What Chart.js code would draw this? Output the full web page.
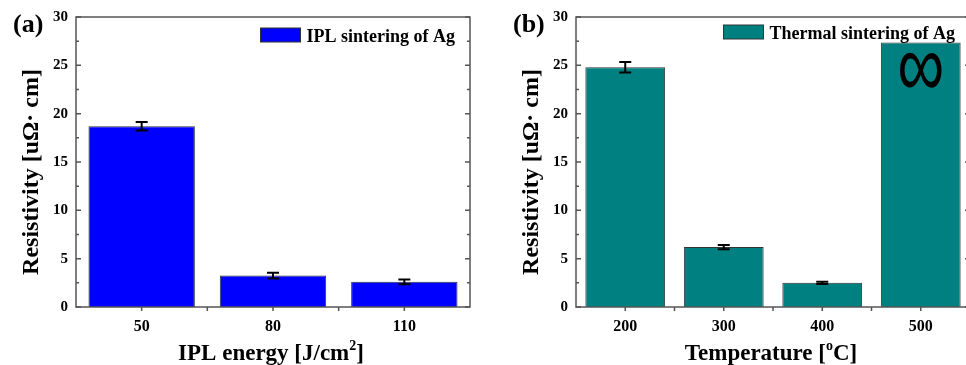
<!DOCTYPE html>
<html>
<head>
<meta charset="utf-8">
<script src="https://cdn.jsdelivr.net/npm/chart.js@4.4.0/dist/chart.umd.min.js"></script>
<style>
  html, body { margin: 0; padding: 0; background: #fff; overflow: hidden; width: 966px; height: 365px; position: relative; }
  .panel { position: absolute; top: 0; width: 483px; height: 365px; }
</style>
</head>
<body>
<div class="panel" style="left:0"><canvas id="chartA" width="483" height="365"></canvas></div>
<div class="panel" style="left:500px"><canvas id="chartB" width="483" height="365"></canvas></div>
<script>
// datos
const iplEnergy = ['50', '80', '110'];
const iplResistivity = [18.7, 3.25, 2.6];
const iplError = [0.45, 0.3, 0.25];

const thermalTemp = ['200', '300', '400', '500'];
const thermalResistivity = [24.8, 6.2, 2.5, 27.35];
const thermalError = [0.55, 0.22, 0.12, 0];

const yTicks = [0, 5, 10, 15, 20, 25, 30];

const FONT = "'Liberation Serif', 'Times New Roman', serif";

// titulo con superindice: [[texto, esSuperindice], ...]
function drawRichText(ctx, parts, cx, cy, size) {
  const big = 'bold ' + size + 'px ' + FONT;
  const small = 'bold ' + Math.round(size * 0.6) + 'px ' + FONT;
  let total = 0;
  parts.forEach(([t, sup]) => { ctx.font = sup ? small : big; total += ctx.measureText(t).width; });
  let px = cx - total / 2;
  ctx.textAlign = 'left';
  ctx.textBaseline = 'alphabetic';
  parts.forEach(([t, sup]) => {
    ctx.font = sup ? small : big;
    ctx.fillText(t, px, cy + (sup ? -size * 0.42 : 0));
    px += ctx.measureText(t).width;
  });
}

// marco, ticks, barras de error, leyenda
function panelPlugin(opts) {
  return {
    id: 'panel' + opts.letter.replace(/\W/g, ''),
    afterDatasetsDraw(chart) {
      const { ctx, chartArea: a, scales: { x, y } } = chart;
      ctx.save();

      // barras de error
      ctx.strokeStyle = '#000';
      ctx.lineWidth = 2;
      opts.values.forEach((v, i) => {
        const e = opts.errors[i];
        if (!e) return;
        const cx = x.getPixelForValue(i);
        const y1 = y.getPixelForValue(v + e);
        const y2 = y.getPixelForValue(v - e);
        ctx.beginPath();
        ctx.moveTo(cx, y1); ctx.lineTo(cx, y2);
        ctx.moveTo(cx - 6, y1); ctx.lineTo(cx + 6, y1);
        ctx.moveTo(cx - 6, y2); ctx.lineTo(cx + 6, y2);
        ctx.stroke();
      });

      // simbolo infinito
      if (opts.mark) {
        ctx.save();
        ctx.translate(x.getPixelForValue(opts.mark.index), y.getPixelForValue(opts.mark.value));
        ctx.scale(1.0, 1.4);
        ctx.fillStyle = '#000';
        ctx.font = "66px 'Liberation Sans', Arial, sans-serif";
        ctx.textAlign = 'center';
        ctx.textBaseline = 'middle';
        ctx.fillText(opts.mark.text, 0, 0);
        ctx.restore();
      }

      // marco
      ctx.strokeStyle = '#555';
      ctx.lineWidth = 1.5;
      ctx.strokeRect(a.left, a.top, a.right - a.left, a.bottom - a.top);

      // ticks eje y (hacia dentro, ambos lados)
      ctx.beginPath();
      yTicks.forEach((t, k) => {
        const py = y.getPixelForValue(t);
        ctx.moveTo(a.left, py); ctx.lineTo(a.left + 5, py);
        ctx.moveTo(a.right, py); ctx.lineTo(a.right - 5, py);
        if (k < yTicks.length - 1) {
          const pm = y.getPixelForValue((t + yTicks[k + 1]) / 2);
          ctx.moveTo(a.left, pm); ctx.lineTo(a.left + 3, pm);
          ctx.moveTo(a.right, pm); ctx.lineTo(a.right - 3, pm);
        }
      });
      // ticks eje x (hacia fuera)
      opts.labels.forEach((l, i) => {
        const px = x.getPixelForValue(i);
        ctx.moveTo(px, a.bottom); ctx.lineTo(px, a.bottom + 4);
        if (i > 0) {
          const pb = (px + x.getPixelForValue(i - 1)) / 2;
          ctx.moveTo(pb, a.bottom); ctx.lineTo(pb, a.bottom + 4);
        }
      });
      ctx.stroke();

      // leyenda
      ctx.font = 'bold 18px ' + FONT;
      ctx.textAlign = 'left';
      ctx.textBaseline = 'alphabetic';
      const w = ctx.measureText(opts.legend).width;
      const tx = a.right - 15 - w;
      ctx.fillStyle = opts.color;
      ctx.fillRect(tx - 46, opts.legendTop, 40, 14);
      ctx.strokeStyle = '#333';
      ctx.lineWidth = 1;
      ctx.strokeRect(tx - 46, opts.legendTop, 40, 14);
      ctx.fillStyle = '#000';
      ctx.fillText(opts.legend, tx, opts.legendTop + 14);

      // titulos de ejes
      drawRichText(ctx, opts.xTitle, (a.left + a.right) / 2 - 2, 360, 23);
      ctx.save();
      ctx.translate(32, 172);
      ctx.rotate(-Math.PI / 2);
      ctx.font = 'bold 24px ' + FONT;
      ctx.textAlign = 'center';
      ctx.textBaseline = 'middle';
      ctx.fillText('Resistivity [uΩ· cm]', 0, 0);
      ctx.restore();

      // letra del panel
      ctx.font = 'bold 26px ' + FONT;
      ctx.textAlign = 'left';
      ctx.textBaseline = 'middle';
      ctx.fillText(opts.letter, 13, 25);

      ctx.restore();
    }
  };
}

function makeChart(id, opts) {
  const tickFont = { family: FONT, size: 16, weight: 'bold' };
  return new Chart(document.getElementById(id), {
    type: 'bar',
    data: {
      labels: opts.labels,
      datasets: [{
        label: opts.legend,
        data: opts.values,
        backgroundColor: opts.color,
        borderColor: '#333',
        borderWidth: 1,
        barPercentage: 0.81,
        categoryPercentage: 1
      }]
    },
    options: {
      responsive: false,
      animation: false,
      layout: { padding: { top: 17, right: 13, left: 0, bottom: 0 } },
      plugins: { legend: { display: false }, tooltip: { enabled: false } },
      scales: {
        x: {
          grid: { display: false, drawTicks: false },
          border: { display: false },
          ticks: { font: tickFont, color: '#000', padding: 10 },
          afterFit: s => { s.height = 58; }
        },
        y: {
          min: 0,
          max: 30,
          afterBuildTicks: s => { s.ticks = yTicks.map(v => ({ value: v })); },
          grid: { display: false, drawTicks: false },
          border: { display: false },
          ticks: { font: { family: FONT, size: 15, weight: 'bold' }, color: '#000', padding: 8 },
          afterFit: s => { s.width = 76; }
        }
      }
    },
    plugins: [panelPlugin(opts)]
  });
}

makeChart('chartA', {
  letter: '(a)',
  labels: iplEnergy,
  values: iplResistivity,
  errors: iplError,
  color: '#0000ff',
  legend: 'IPL sintering of Ag',
  legendTop: 28,
  xTitle: [['IPL energy [J/cm', false], ['2', true], [']', false]]
});

makeChart('chartB', {
  letter: '(b)',
  labels: thermalTemp,
  values: thermalResistivity,
  errors: thermalError,
  color: '#008080',
  legend: 'Thermal sintering of Ag',
  legendTop: 25,
  xTitle: [['Temperature [', false], ['o', true], ['C]', false]],
  mark: { index: 3, value: 24.4, text: '∞' }
});
</script>
</body>
</html>
